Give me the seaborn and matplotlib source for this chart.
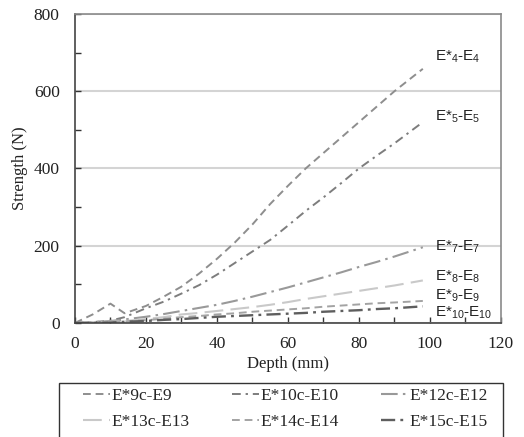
import matplotlib
matplotlib.use("Agg")
import matplotlib.pyplot as plt
from matplotlib.ticker import MultipleLocator
from matplotlib.patches import Rectangle
import seaborn as sns
import pandas as pd

# Depth positions (mm) shared by all series
depth = [0, 5, 10, 14, 20, 25, 30, 35, 40, 45, 50, 55, 60, 65, 70, 75, 80, 85, 90, 98]

# Strength (N) for each configuration
e9 = [0, 22, 50, 25, 44, 68, 94, 128, 166, 208, 255, 308, 355, 400, 440, 480, 520, 560, 600, 658]
e10 = [0, 2, 6, 15, 38, 55, 76, 98, 125, 155, 185, 215, 252, 290, 325, 362, 400, 433, 465, 520]
e12 = [0, 2, 5, 9, 16, 23, 31, 39, 47, 57, 68, 80, 92, 105, 118, 131, 145, 158, 172, 196]
e13 = [0, 1, 3, 5, 10, 15, 22, 26, 31, 36, 41, 47, 54, 62, 69, 76, 83, 90, 97, 110]
e14 = [0, 1, 2, 4, 7, 11, 15, 18, 22, 25, 29, 32, 35, 38, 42, 45, 48, 51, 53, 57]
e15 = [0, 0, 1, 3, 5, 8, 10, 13, 16, 18, 20, 22, 24, 26, 29, 31, 33, 36, 38, 43]

series_names = ["E*9c-E9", "E*10c-E10", "E*12c-E12", "E*13c-E13", "E*14c-E14", "E*15c-E15"]
series_values = [e9, e10, e12, e13, e14, e15]

# End-of-curve annotations
end_labels = ["E*$_{4}$-E$_{4}$", "E*$_{5}$-E$_{5}$", "E*$_{7}$-E$_{7}$",
              "E*$_{8}$-E$_{8}$", "E*$_{9}$-E$_{9}$", "E*$_{10}$-E$_{10}$"]
end_label_y = [690, 535, 197, 119, 70, 26]

colors = ["#8e8e8e", "#7d7d7d", "#999999", "#c9c9c9", "#a3a3a3", "#5e5e5e"]
styles = [(0, (4, 2.5)), (0, (4.5, 2.5, 1.2, 2.5)), (0, (8, 2.5, 1.2, 2.5)),
          (0, (9, 3.5)), (0, (4, 2.5)), (0, (6, 2.2, 1.2, 2.2))]
widths = [1.4, 1.4, 1.5, 1.5, 1.4, 1.7]

sns.set_style("white")
plt.rcParams["font.family"] = ["Liberation Serif", "DejaVu Serif"]
plt.rcParams["mathtext.fontset"] = "custom"
plt.rcParams["mathtext.rm"] = "Liberation Sans"
plt.rcParams["mathtext.default"] = "regular"

fig = plt.figure(figsize=(5.24, 4.37), dpi=100)
ax = fig.add_axes([0.143, 0.261, 0.813, 0.707])

for name, vals, c, ls, lw in zip(series_names, series_values, colors, styles, widths):
    df = pd.DataFrame({"Depth": depth, "Strength": vals})
    sns.lineplot(data=df, x="Depth", y="Strength", ax=ax, color=c,
                 linestyle=ls, linewidth=lw, label=name)

for txt, yv in zip(end_labels, end_label_y):
    ax.text(101.5, yv, txt, fontsize=11, family=["Liberation Sans"],
            va="center", ha="left", color="#222222")

ax.set_xlim(0, 120)
ax.set_ylim(0, 800)
ax.xaxis.set_major_locator(MultipleLocator(20))
ax.xaxis.set_minor_locator(MultipleLocator(10))
ax.yaxis.set_major_locator(MultipleLocator(200))
ax.yaxis.set_minor_locator(MultipleLocator(100))
ax.tick_params(axis="both", which="both", direction="in", labelsize=12.5,
               colors="#333333", labelcolor="#222222", length=4, width=1,
               left=True, bottom=True)
ax.tick_params(axis="x", which="both", pad=9.5)
ax.tick_params(axis="y", which="both", pad=11)
ax.yaxis.grid(True, which="major", color="#d4d4d4", linewidth=1.5)
ax.set_axisbelow(True)

for side in ["left", "bottom"]:
    ax.spines[side].set_color("#444444")
    ax.spines[side].set_linewidth(1.2)
for side in ["top", "right"]:
    ax.spines[side].set_color("#8a8a8a")
    ax.spines[side].set_linewidth(1.2)

ax.set_xlabel("Depth (mm)", fontsize=12, color="#222222", labelpad=2.5)
ax.set_ylabel("Strength (N)", fontsize=12, color="#222222", labelpad=4)

# Legend filled row by row: three entries per row
handles, labels = ax.get_legend_handles_labels()
ax.get_legend().remove()
order = [0, 3, 1, 4, 2, 5]
leg = fig.legend([handles[i] for i in order], [labels[i] for i in order],
                 loc="upper left", ncol=3, bbox_to_anchor=(0.1584, 0.113),
                 borderaxespad=0, borderpad=0, frameon=False,
                 fontsize=12.5, handlelength=1.55, handletextpad=0.08,
                 columnspacing=2.45, labelspacing=0.6)
fig.add_artist(Rectangle((59 / 524, -0.02), (503 - 59) / 524, (437 - 383) / 437 + 0.02,
                         transform=fig.transFigure, fill=False,
                         edgecolor="#333333", linewidth=1.0))

fig.savefig("out.png", dpi=100)
